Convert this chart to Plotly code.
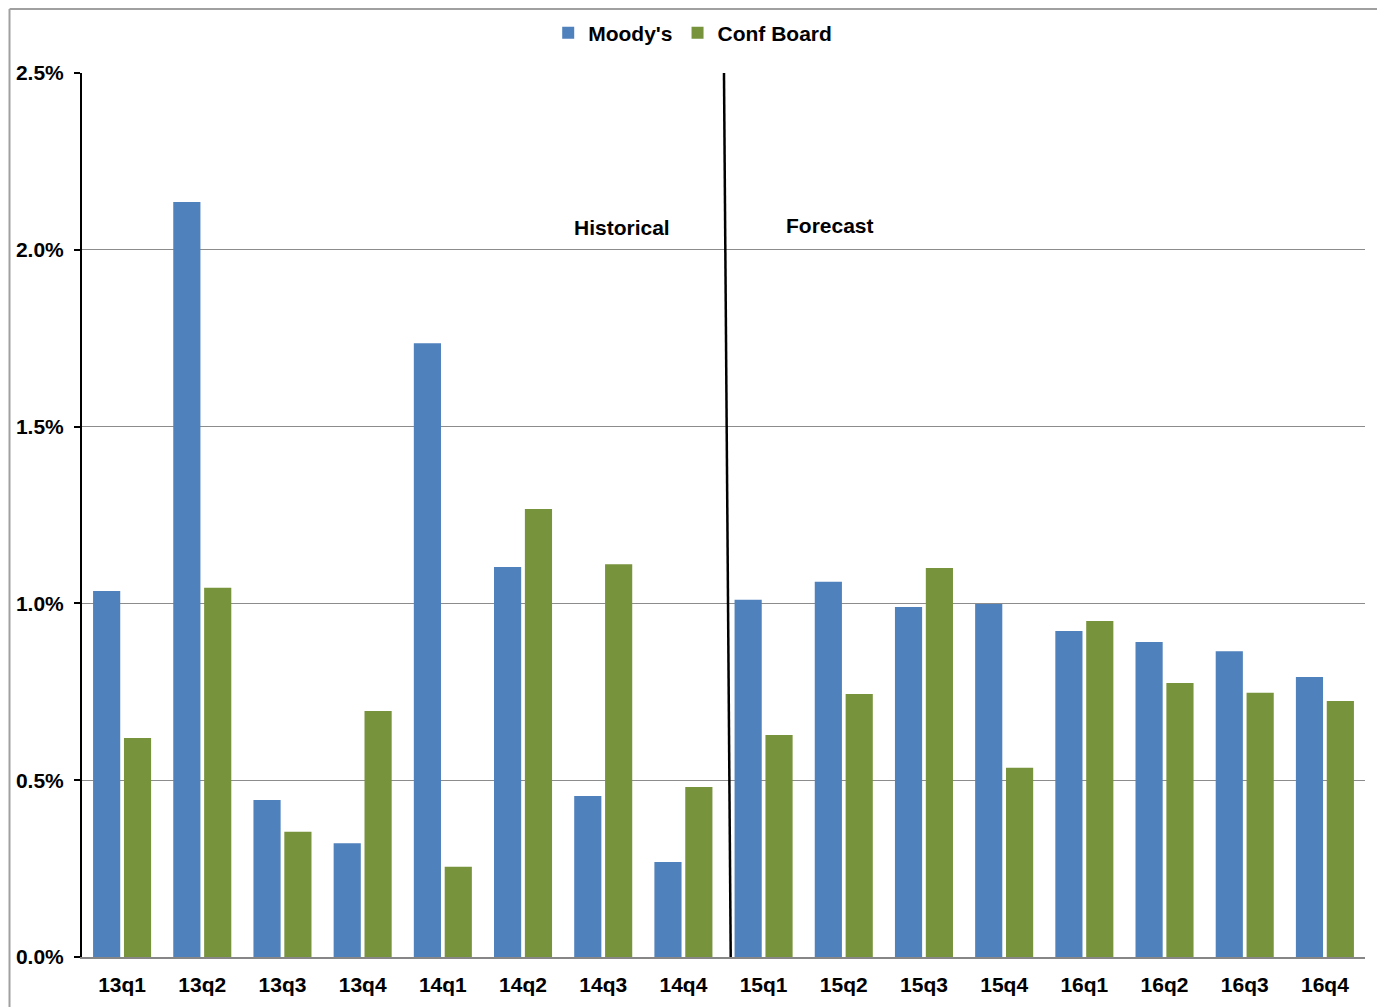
import plotly.graph_objects as go

quarters = ["13q1", "13q2", "13q3", "13q4", "14q1", "14q2", "14q3", "14q4",
            "15q1", "15q2", "15q3", "15q4", "16q1", "16q2", "16q3", "16q4"]
moodys = [1.035, 2.135, 0.444, 0.322, 1.736, 1.103, 0.455, 0.269,
          1.010, 1.061, 0.990, 0.998, 0.922, 0.891, 0.865, 0.792]
conf_board = [0.619, 1.044, 0.354, 0.696, 0.255, 1.267, 1.111, 0.481,
              0.628, 0.744, 1.100, 0.535, 0.950, 0.775, 0.747, 0.724]
y_ticks = [0.0, 0.5, 1.0, 1.5, 2.0, 2.5]

font_family = "Liberation Sans, Arial, sans-serif"
fs = 21

fig = go.Figure()
fig.add_trace(go.Bar(x=quarters, y=moodys, name="Moody's",
                     marker=dict(color="#4F81BD", line=dict(width=0))))
fig.add_trace(go.Bar(x=quarters, y=conf_board, name="Conf Board",
                     marker=dict(color="#77933C", line=dict(width=0))))

fig.update_layout(
    width=1379, height=999,
    margin=dict(l=74, r=22, t=65, b=50, autoexpand=False),
    paper_bgcolor="white", plot_bgcolor="white",
    barmode="group", bargap=0.23, bargroupgap=0.12,
    font=dict(family=font_family, size=fs, color="black"),
    legend=dict(orientation="h", x=0.476, xanchor="center",
                yref="container", y=1 - 25 / 999, yanchor="middle",
                font=dict(family=font_family, size=fs, color="black", weight="bold"),
                itemwidth=30, traceorder="normal"),
    xaxis=dict(showgrid=False, showline=True, linecolor="#868686", linewidth=2,
               ticks="", ticklabelstandoff=8, automargin=False,
               tickfont=dict(family=font_family, size=fs, color="black", weight="bold"),
               range=[-0.5, 15.5]),
    yaxis=dict(range=[0, 2.5], tickvals=y_ticks, ticktext=[f"{v:.1f}%" for v in y_ticks],
               showgrid=True, gridcolor="#8C8C8C", gridwidth=1,
               showline=True, linecolor="black", linewidth=2,
               ticks="outside", ticklen=6, tickcolor="black", tickwidth=2,
               ticklabelstandoff=6, automargin=False,
               tickfont=dict(family=font_family, size=fs, color="black", weight="bold"),
               zeroline=False),
    shapes=[
        dict(type="line", xref="x", yref="y", x0=7.59, y0=0, x1=7.506, y1=2.5,
             line=dict(color="black", width=2.5)),
        dict(type="line", xref="paper", yref="paper", x0=-0.0565, x1=-0.0565, y0=-0.1, y1=1.0724,
             line=dict(color="#A0A0A0", width=2), layer="above"),
        dict(type="line", xref="paper", yref="paper", x0=-0.0565, x1=1.05, y0=1.0724, y1=1.0724,
             line=dict(color="#A0A0A0", width=2), layer="above"),
    ],
    annotations=[
        dict(text="Historical", x=6.234, y=2.064, xref="x", yref="y", showarrow=False,
             font=dict(family=font_family, size=fs, color="black", weight="bold")),
        dict(text="Forecast", x=8.828, y=2.070, xref="x", yref="y", showarrow=False,
             font=dict(family=font_family, size=fs, color="black", weight="bold")),
    ],
)

fig.write_html("out.html")
